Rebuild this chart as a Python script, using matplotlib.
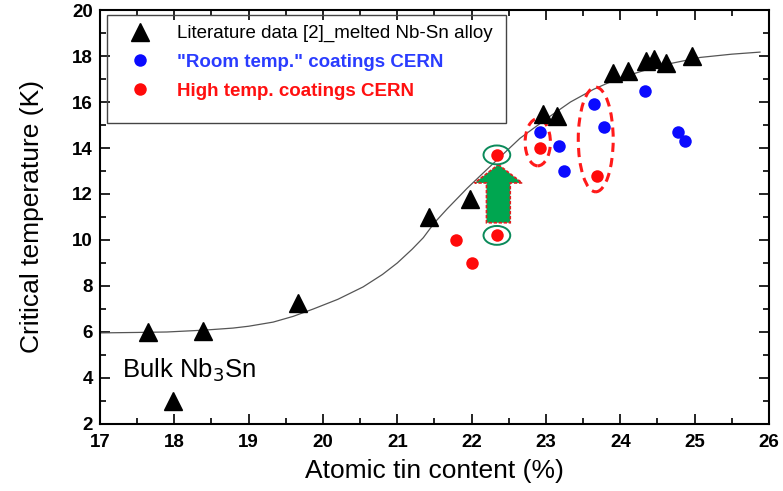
import matplotlib.pyplot as plt
from matplotlib.patches import Ellipse, FancyArrow, Rectangle
from matplotlib.lines import Line2D

plt.rcParams['font.family'] = ['Liberation Sans', 'DejaVu Sans']

# Literature data [2] (melted Nb-Sn alloy)
lit_x = [17.65, 17.98, 18.38, 19.66, 21.42, 21.98, 22.96, 23.15, 23.9, 24.1, 24.35, 24.45, 24.62, 24.97]
lit_y = [6.0, 3.0, 6.05, 7.25, 11.0, 11.8, 15.5, 15.4, 17.25, 17.35, 17.8, 17.85, 17.7, 18.0]

# "Room temp." coatings CERN
room_x = [22.92, 23.18, 23.24, 23.64, 23.78, 24.33, 24.78, 24.87]
room_y = [14.7, 14.1, 13.0, 15.9, 14.9, 16.5, 14.7, 14.3]

# High temp. coatings CERN
high_x = [22.92, 23.69, 22.34, 22.34, 21.79, 22.0]
high_y = [14.0, 12.8, 13.7, 10.2, 10.0, 9.0]

# fit curve
fit_x = [17.0, 17.5, 17.9, 18.4, 18.79, 19.0, 19.33, 19.6, 19.87, 20.2, 20.54, 20.8, 21.0,
         21.2, 21.35, 21.5, 21.67, 21.94, 22.2, 22.42, 22.65, 23.02, 23.33, 23.64,
         23.85, 24.0, 24.2, 24.37, 24.67, 25.08, 25.5, 25.88]
fit_y = [5.96, 5.98, 6.0, 6.08, 6.17, 6.25, 6.43, 6.68, 7.0, 7.42, 7.96, 8.5, 9.0,
         9.6, 10.1, 10.75, 11.35, 12.25, 13.05, 13.72, 14.42, 15.3, 16.0, 16.55,
         16.85, 17.05, 17.25, 17.42, 17.67, 17.94, 18.08, 18.17]

# highlighted points (before / after), and dashed groups (center x, center y, w, h)
highlight = [(22.34, 10.2), (22.34, 13.7)]
groups = [(22.89, 14.25, 0.34, 2.05), (23.67, 14.37, 0.47, 4.55)]

fig = plt.figure(figsize=(7.83, 4.91), dpi=100)
ax = fig.add_axes([0.1277, 0.1365, 0.8543, 0.8431])

ax.plot(fit_x, fit_y, color='#555555', lw=0.9, zorder=2)
ax.plot(lit_x, lit_y, '^', color='black', ms=13, zorder=4)
ax.plot(room_x, room_y, 'o', color='#0a0aff', ms=9, mec='none', zorder=4)
ax.plot(high_x, high_y, 'o', color='#ff0a0a', ms=9, mec='none', zorder=4)

# dashed red ellipses around groups
for cx, cy, w, h in groups:
    ax.add_patch(Ellipse((cx, cy), w, h, fill=False, ec='#ff1a1a', lw=2.2,
                         ls=(0, (3, 2)), zorder=3))

# green circles around the highlighted points
for hx, hy in highlight:
    ax.add_patch(Ellipse((hx, hy), 0.36, 0.82, fill=False, ec='#0a8a5a', lw=1.4, zorder=5))

# green arrow between them
(lx, ly), (ux, uy) = highlight
base = ly + 0.55
tip = uy - 0.42
ax.add_patch(FancyArrow(lx + 0.02, base, 0, tip - base, width=0.32, head_width=0.64,
                        head_length=0.8, length_includes_head=True,
                        fc='#00a650', ec='#e02020', lw=1.2, ls=(0, (2, 1)), zorder=3))

ax.text(17.3, 4.35, r'Bulk Nb$_3$Sn', fontsize=18.5, va='center', ha='left')

# legend box
ax.add_patch(Rectangle((0.01, 0.727), 0.597, 0.261, transform=ax.transAxes,
                       fill=False, ec='#444444', lw=1.0, zorder=6))
handles = [Line2D([], [], marker='^', color='black', ls='none', ms=13),
           Line2D([], [], marker='o', color='#0a0aff', mec='none', ls='none', ms=9),
           Line2D([], [], marker='o', color='#ff0a0a', mec='none', ls='none', ms=9)]
labels = ['Literature data [2]_melted Nb-Sn alloy', '"Room temp." coatings CERN',
          'High temp. coatings CERN']
leg = ax.legend(handles, labels, loc='upper left', bbox_to_anchor=(0.02, 0.982),
                frameon=False, fontsize=13.5, labelspacing=0.62, handletextpad=1.0,
                borderaxespad=0)
txt = leg.get_texts()
txt[1].set_color('#2a3cff')
txt[1].set_fontweight('bold')
txt[2].set_color('#ff1010')
txt[2].set_fontweight('bold')

ax.set_xlim(17, 26)
ax.set_ylim(2, 20)
ax.set_xticks(range(17, 27))
ax.set_yticks(range(2, 21, 2))
ax.set_xticks([x + 0.5 for x in range(17, 26)], minor=True)
ax.set_yticks(range(3, 20, 2), minor=True)
ax.tick_params(which='both', direction='in', top=True, right=True, width=1.2)
ax.tick_params(which='major', length=7, labelsize=13.5)
ax.tick_params(axis='x', which='major', pad=7)
ax.tick_params(axis='y', which='major', pad=5)
ax.tick_params(which='minor', length=4)
for lab in ax.get_xticklabels() + ax.get_yticklabels():
    lab.set_fontweight('bold')
for s in ax.spines.values():
    s.set_linewidth(1.5)

ax.set_xlabel('Atomic tin content (%)', fontsize=19, labelpad=6)
ax.set_ylabel('Critical temperature (K)', fontsize=19, labelpad=20)

plt.savefig('out.png', dpi=100)
